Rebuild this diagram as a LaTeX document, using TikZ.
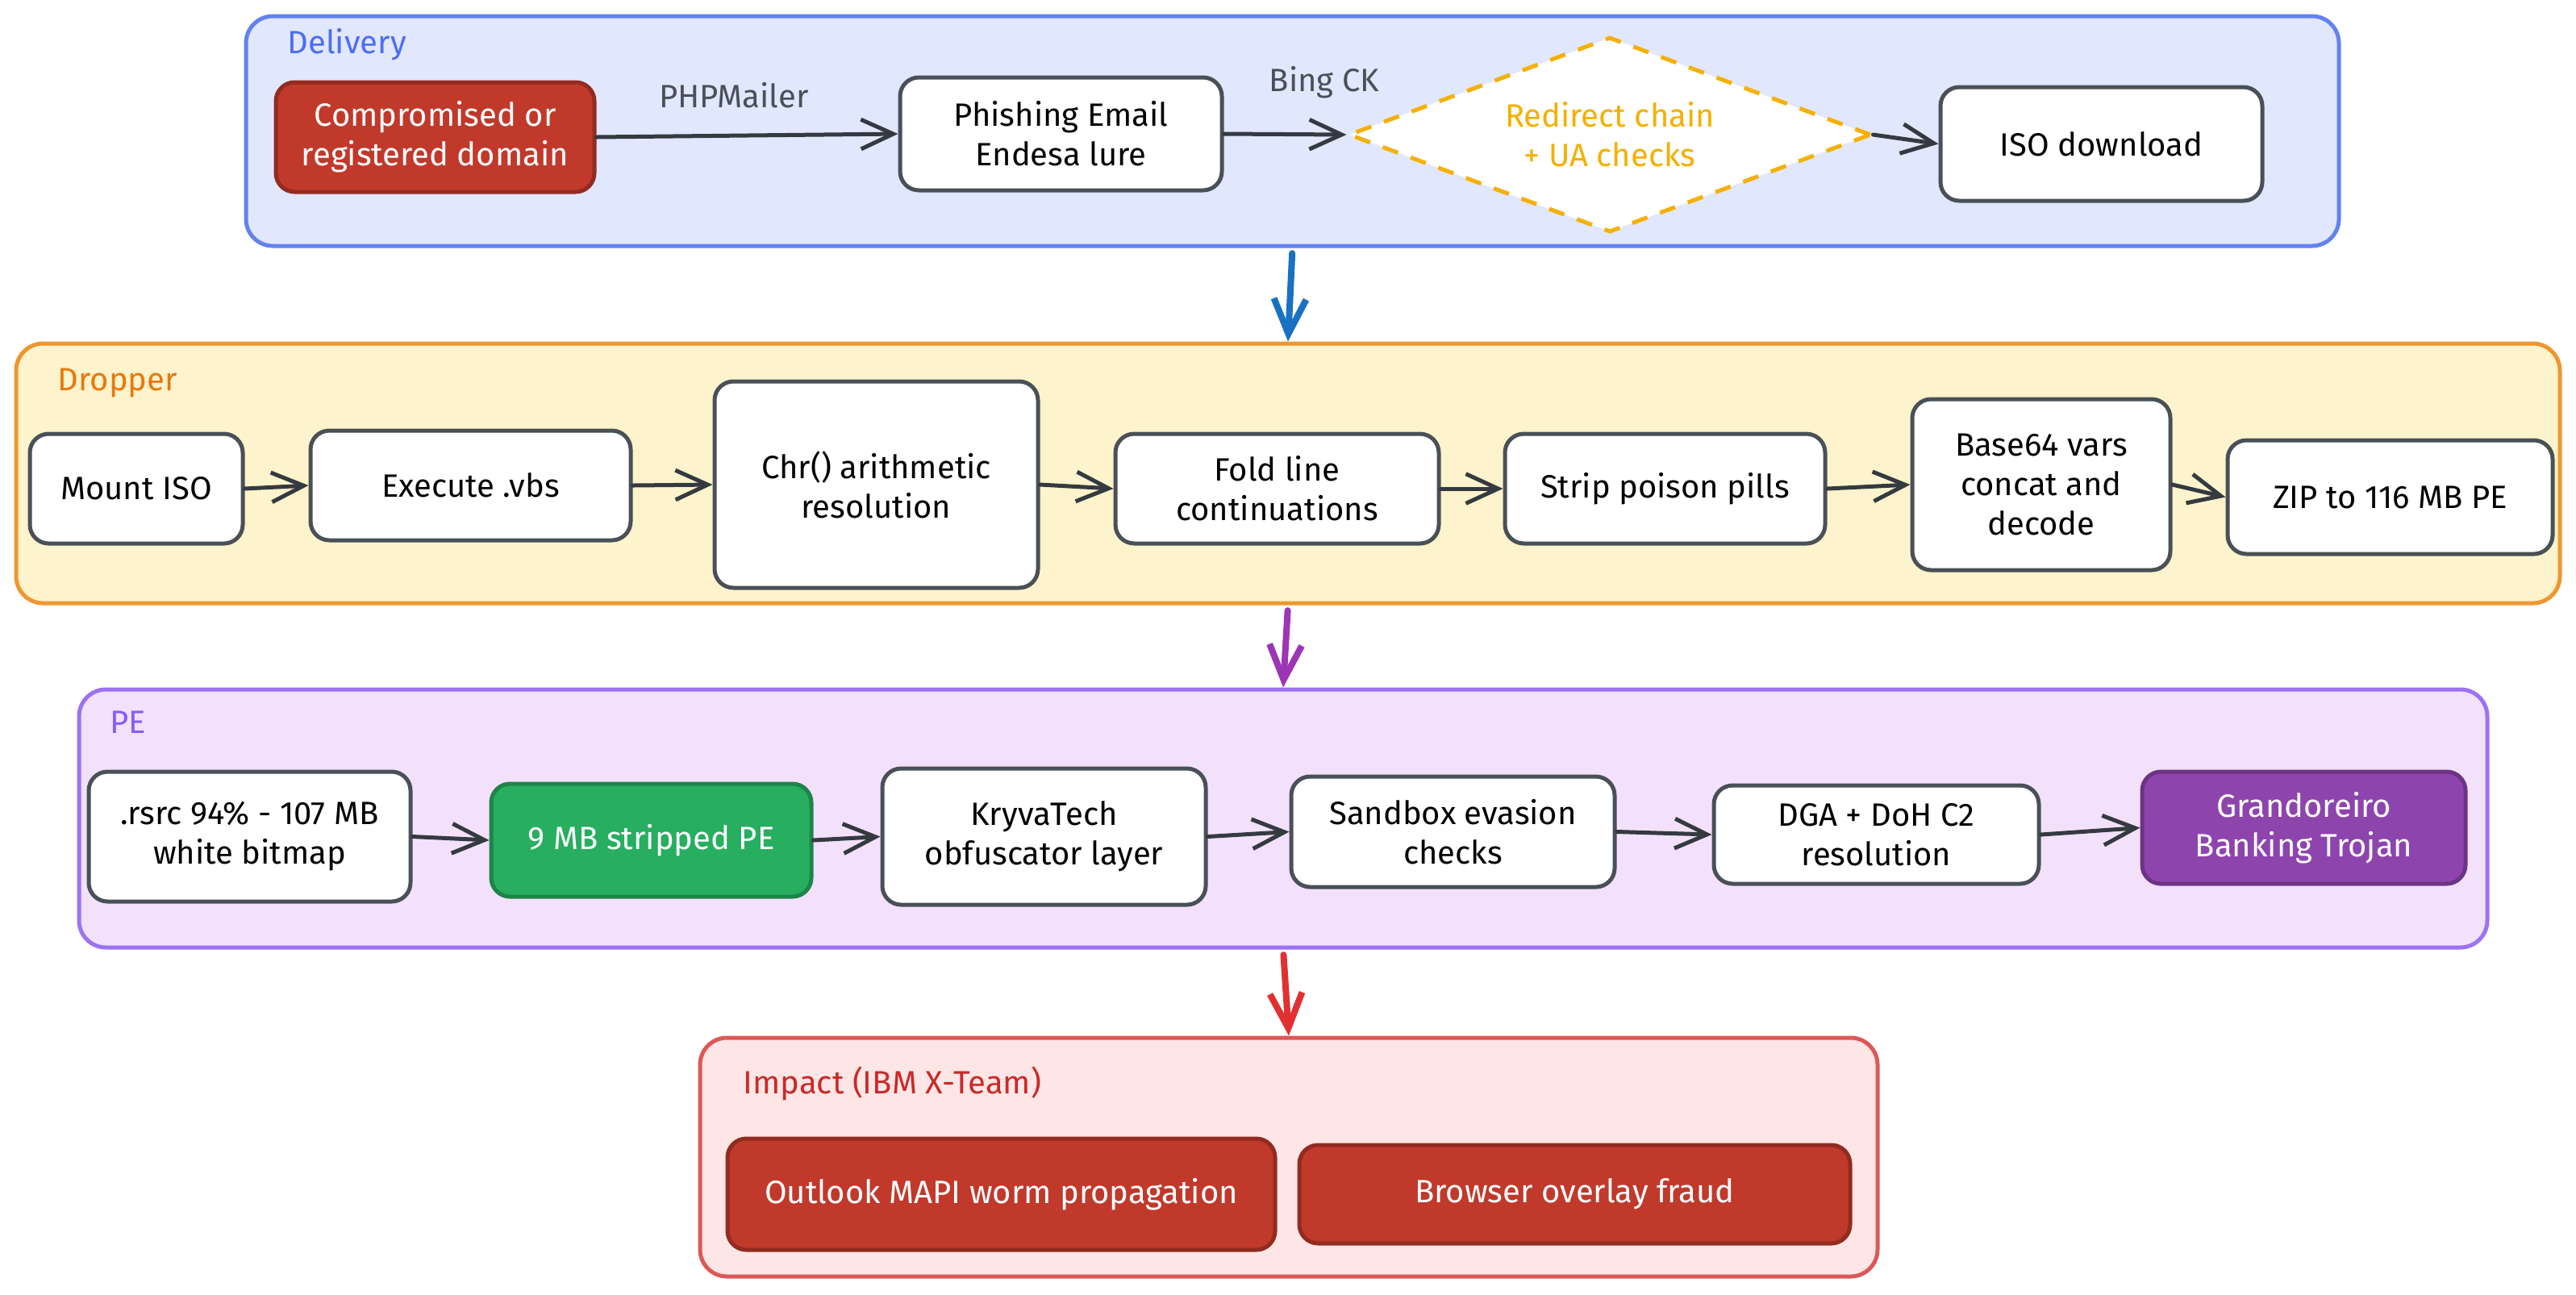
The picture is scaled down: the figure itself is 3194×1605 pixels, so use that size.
\documentclass[tikz,border=0pt]{standalone}
\usepackage{fontspec}
\setmainfont{Fira Sans}
\usetikzlibrary{shapes.geometric,arrows.meta}
\definecolor{delfill}{HTML}{E1E7FC}
\definecolor{deldraw}{HTML}{6482EE}
\definecolor{deltext}{HTML}{4C6EF5}
\definecolor{dropfill}{HTML}{FDF3CC}
\definecolor{dropdraw}{HTML}{EF9630}
\definecolor{droptext}{HTML}{E8790C}
\definecolor{pefill}{HTML}{F3E0FB}
\definecolor{pedraw}{HTML}{9B73F2}
\definecolor{petext}{HTML}{845EF7}
\definecolor{impfill}{HTML}{FFE6E6}
\definecolor{impdraw}{HTML}{DC5858}
\definecolor{imptext}{HTML}{C92A2A}
\definecolor{nodedraw}{HTML}{495057}
\definecolor{arrowc}{HTML}{343A40}
\definecolor{labelc}{HTML}{495057}
\definecolor{redfill}{HTML}{C0392B}
\definecolor{reddraw}{HTML}{922B21}
\definecolor{greenfill}{HTML}{27AE60}
\definecolor{greendraw}{HTML}{1E8449}
\definecolor{purplefill}{HTML}{8E44AD}
\definecolor{purpledraw}{HTML}{6C3483}
\definecolor{amber}{HTML}{F5B000}
\definecolor{bluearrow}{HTML}{1971C2}
\definecolor{purplearrow}{HTML}{9C36B5}
\definecolor{redarrow}{HTML}{E03131}
\tikzset{
  cont/.style={rectangle, rounded corners=10pt, line width=1.5pt, inner sep=0pt},
  box/.style={rectangle, rounded corners=7pt, draw=nodedraw, fill=white, line width=1.5pt, align=center, inner sep=2pt},
  redbox/.style={box, draw=reddraw, fill=redfill, text=white},
  greenbox/.style={box, draw=greendraw, fill=greenfill, text=white},
  purplebox/.style={box, draw=purpledraw, fill=purplefill, text=white},
  title/.style={anchor=west, inner sep=0pt},
  elabel/.style={text=labelc, inner sep=0pt},
  flow/.style={draw=arrowc, line width=1.5pt, line cap=round, -{Straight Barb[length=12pt,width=11pt]}},
  vflow/.style={line width=2.4pt, line cap=round, -{Straight Barb[length=13pt,width=12pt]}},
}
\begin{document}
\begin{tikzpicture}[x=0.3pt,y=-0.3pt, font=\fontsize{12}{14.7}\selectfont]
\useasboundingbox (0,0) rectangle (3194,1605);

% containers
\node[cont, draw=deldraw, fill=delfill, minimum width=778.5pt, minimum height=85.5pt] (delivery) at (1602.5,162.5) {};
\node[cont, draw=dropdraw, fill=dropfill, minimum width=946.2pt, minimum height=96.6pt] (dropper) at (1597,587) {};
\node[cont, draw=pedraw, fill=pefill, minimum width=895.8pt, minimum height=96pt] (pe) at (1591,1015) {};
\node[cont, draw=impdraw, fill=impfill, minimum width=438pt, minimum height=88.8pt] (impact) at (1598,1435) {};

% titles
\node[title, text=deltext] (tdel) at (356,55) {Delivery};
\node[title, text=droptext] (tdrop) at (71,475) {Dropper};
\node[title, text=petext] (tpe) at (136,896) {PE};
\node[title, text=imptext] (timp) at (921,1344) {Impact (IBM X-Team)};

% Delivery
\node[redbox, minimum width=118.5pt, minimum height=40.8pt] (comp) at (539.5,170) {Compromised or\\registered domain};
\node[box, minimum width=119.7pt, minimum height=42pt] (phish) at (1315.5,166) {Phishing Email\\Endesa lure};
\node[diamond, shape aspect=2.68, draw=amber, dash pattern=on 6pt off 5pt, line width=1.5pt, fill=white, minimum width=194.4pt, minimum height=72.6pt, inner sep=0pt, text=amber, align=center] (redir) at (1996,167) {Redirect chain\\+ UA checks};
\node[box, minimum width=119.7pt, minimum height=42.3pt] (iso) at (2605.5,178.5) {ISO download};

\draw[flow] (comp.east) -- (phish.west);
\draw[flow] (phish.east) -- (redir.west);
\draw[flow] (redir.east) -- (iso.west);
\node[elabel] (lphp) at (910,118) {PHPMailer};
\node[elabel] (lbing) at (1642,102) {Bing CK};

% Dropper
\node[box, minimum width=79.2pt, minimum height=40.8pt] (mount) at (169,606) {Mount ISO};
\node[box, minimum width=119.1pt, minimum height=40.8pt] (exec) at (583.5,602) {Execute .vbs};
\node[box, minimum width=120.3pt, minimum height=76.8pt] (chr) at (1086.5,601) {Chr() arithmetic\\resolution};
\node[box, minimum width=120.3pt, minimum height=40.8pt] (fold) at (1583.5,606) {Fold line\\continuations};
\node[box, minimum width=119.1pt, minimum height=40.8pt] (strip) at (2064.5,606) {Strip poison pills};
\node[box, minimum width=96pt, minimum height=63.6pt] (base) at (2531,601) {Base64 vars\\concat and\\decode};
\node[box, minimum width=120.9pt, minimum height=42.3pt] (zip) at (2963.5,616.5) {ZIP to 116 MB PE};

\draw[flow] (mount.east) -- (exec.west);
\draw[flow] (exec.east) -- (chr.west);
\draw[flow] (chr.east) -- (fold.west);
\draw[flow] (fold.east) -- (strip.west);
\draw[flow] (strip.east) -- (base.west);
\draw[flow] (base.east) -- (zip.west);

% PE
\node[box, minimum width=119.7pt, minimum height=48.3pt] (rsrc) at (309.5,1037.5) {.rsrc 94\% - 107 MB\\white bitmap};
\node[greenbox, minimum width=119.1pt, minimum height=42pt] (nine) at (807.5,1042) {9 MB stripped PE};
\node[box, minimum width=120.3pt, minimum height=50.7pt] (kryva) at (1294.5,1037.5) {KryvaTech\\obfuscator layer};
\node[box, minimum width=120.3pt, minimum height=41.1pt] (sandbox) at (1801.5,1031.5) {Sandbox evasion\\checks};
\node[box, minimum width=120.9pt, minimum height=36.6pt] (dga) at (2326.5,1035) {DGA + DoH C2\\resolution};
\node[purplebox, minimum width=120.3pt, minimum height=41.7pt] (grand) at (2856.5,1026.5) {Grandoreiro\\Banking Trojan};

\draw[flow] (rsrc.east) -- (nine.west);
\draw[flow] (nine.east) -- (kryva.west);
\draw[flow] (kryva.east) -- (sandbox.west);
\draw[flow] (sandbox.east) -- (dga.west);
\draw[flow] (dga.east) -- (grand.west);

% Impact
\node[redbox, minimum width=203.7pt, minimum height=41.4pt] (outlook) at (1241.5,1481) {Outlook MAPI worm propagation};
\node[redbox, minimum width=204.9pt, minimum height=36.6pt] (browser) at (1952.5,1481) {Browser overlay fraud};

% stage arrows
\draw[vflow, draw=bluearrow, shorten <=2pt] (delivery.south) -- (dropper.north);
\draw[vflow, draw=purplearrow, shorten <=2pt] (dropper.south) -- (pe.north);
\draw[vflow, draw=redarrow, shorten <=2pt] (pe.south) -- (impact.north);
\end{tikzpicture}
\end{document}
